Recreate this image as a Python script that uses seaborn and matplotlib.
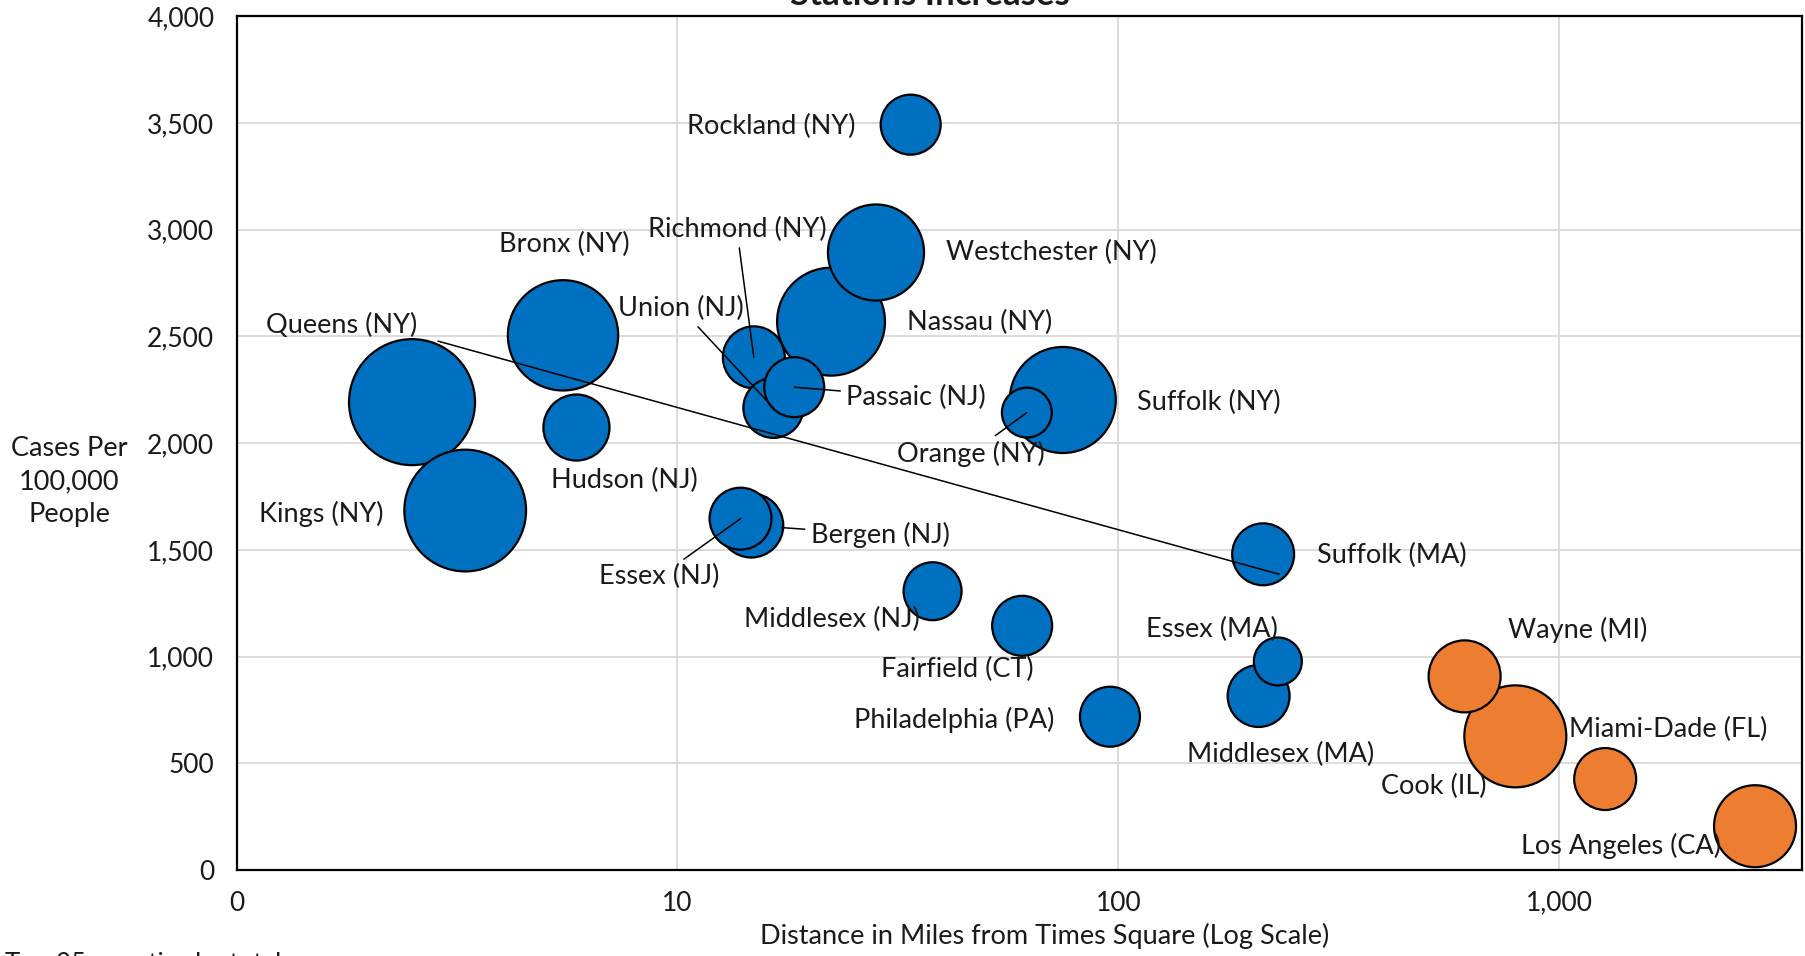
import numpy as np
import pandas as pd
import matplotlib
matplotlib.use("Agg")
import matplotlib.pyplot as plt
import matplotlib.transforms as mtransforms
from matplotlib.ticker import FixedLocator, FixedFormatter
import seaborn as sns

# Counties, distance from Times Square (miles), cases per 100k, total cases (thousands, est.)
counties = ["Queens (NY)", "Kings (NY)", "Bronx (NY)", "Hudson (NJ)", "Nassau (NY)",
            "Richmond (NY)", "Union (NJ)", "Passaic (NJ)", "Westchester (NY)", "Rockland (NY)",
            "Bergen (NJ)", "Essex (NJ)", "Suffolk (NY)", "Orange (NY)", "Middlesex (NJ)",
            "Fairfield (CT)", "Philadelphia (PA)", "Suffolk (MA)", "Middlesex (MA)", "Essex (MA)",
            "Cook (IL)", "Wayne (MI)", "Miami-Dade (FL)", "Los Angeles (CA)"]
distance = [2.5, 3.3, 5.5, 5.9, 22.3,
            14.9, 16.5, 18.4, 28.2, 33.8,
            14.7, 13.9, 74.8, 62.0, 37.9,
            60.5, 95.7, 213, 208, 230,
            795, 610, 1271, 2780]
cases_per_100k = [2192, 1684, 2505, 2073, 2569,
                  2402, 2165, 2262, 2893, 3492,
                  1614, 1646, 2202, 2143, 1306,
                  1144, 718, 1479, 815, 977,
                  626, 907, 426, 205]
total_cases_k = [60, 56, 46, 16.5, 44,
                 14.5, 13.6, 13.6, 34.9, 13.6,
                 15.5, 14.5, 42.5, 9.4, 12.7,
                 13.6, 13.6, 14.5, 14.5, 8.7,
                 39.3, 19.6, 14.5, 25.4]
region = ["NY metro / Northeast"] * 20 + ["Elsewhere"] * 4

x_ticks = [1, 10, 100, 1000]
x_tick_labels = ["0", "10", "100", "1,000"]
y_ticks = list(range(0, 4001, 500))

# label offsets from the bubble centre, in pixels
label_offsets = {
    "Queens (NY)": (-70, 77), "Kings (NY)": (-144, -3), "Bronx (NY)": (1, 91),
    "Hudson (NJ)": (48, -53), "Richmond (NY)": (-17, 128), "Union (NJ)": (-92, 99),
    "Passaic (NJ)": (122, -10), "Nassau (NY)": (149, -1), "Westchester (NY)": (175, 0),
    "Rockland (NY)": (-139, -2), "Essex (NJ)": (-81, -58), "Bergen (NJ)": (129, -9),
    "Orange (NY)": (-56, -41), "Suffolk (NY)": (146, -2), "Middlesex (NJ)": (-101, -28),
    "Fairfield (CT)": (-65, -44), "Philadelphia (PA)": (-156, -3), "Suffolk (MA)": (129, -1),
    "Middlesex (MA)": (22, -58), "Essex (MA)": (-66, 32), "Wayne (MI)": (113, 46),
    "Cook (IL)": (-82, -50), "Miami-Dade (FL)": (63, 50), "Los Angeles (CA)": (-134, -20),
}
leaders = {"Richmond (NY)": 0, "Union (NJ)": 0, "Passaic (NJ)": 0, "Orange (NY)": 0,
           "Essex (NJ)": 0, "Bergen (NJ)": 22}

df = pd.DataFrame({"county": counties, "distance": distance, "rate": cases_per_100k,
                   "cases": total_cases_k, "region": region})

sns.set_style("white")
plt.rcParams["font.family"] = ["Lato", "DejaVu Sans"]
text_color = "#1a1a1a"

fig = plt.figure(figsize=(18.06, 9.56), dpi=100)
ax = fig.add_axes([0.131, 0.090, 0.867, 0.893])

sns.scatterplot(data=df, x="distance", y="rate", hue="region", size="cases",
                sizes=(0, 8230), size_norm=(0, 60),
                palette={"NY metro / Northeast": "#0070C0", "Elsewhere": "#ED7D31"},
                edgecolor="black", linewidth=1.6, alpha=1, legend=False, ax=ax, zorder=2)

ax.set_xscale("log")
ax.set_xlim(1, 3560)
ax.set_ylim(0, 4000)
ax.xaxis.set_major_locator(FixedLocator(x_ticks))
ax.xaxis.set_major_formatter(FixedFormatter(x_tick_labels))
ax.xaxis.set_minor_locator(FixedLocator([]))
ax.set_yticks(y_ticks)
ax.set_yticklabels([f"{v:,}" for v in y_ticks])
ax.grid(True, color="#d9d9d9", linewidth=1.3, zorder=0)
ax.set_axisbelow(True)
for sp in ax.spines.values():
    sp.set_color("black")
    sp.set_linewidth(1.6)
ax.tick_params(length=0, labelsize=19, colors=text_color)
ax.tick_params(axis="y", pad=16)
ax.tick_params(axis="x", pad=15)

ax.set_xlabel("Distance in Miles from Times Square (Log Scale)", fontsize=19.5,
              color=text_color)
ax.xaxis.set_label_coords(0.516, -0.062)
ax.set_ylabel("Cases Per\n100,000\nPeople", fontsize=19.5, color=text_color,
              rotation=0, ha="center", va="center", linespacing=1.4)
ax.yaxis.set_label_coords(-0.107, 0.455)

for _, row in df.iterrows():
    dx, dy = label_offsets[row["county"]]
    arrow = None
    if row["county"] in leaders:
        arrow = dict(arrowstyle="-", color="black", lw=1.1, shrinkA=2,
                     shrinkB=leaders[row["county"]])
    ax.annotate(row["county"], xy=(row["distance"], row["rate"]), xytext=(dx, dy),
                textcoords="offset pixels", ha="center", va="center",
                fontsize=19.5, color=text_color, arrowprops=arrow, zorder=4)

# long leader line from the Queens label down to Suffolk (MA)
q = df[df["county"] == "Queens (NY)"].iloc[0]
s = df[df["county"] == "Suffolk (MA)"].iloc[0]
start_tr = mtransforms.offset_copy(ax.transData, fig=fig, x=26, y=61, units="dots")
end_tr = mtransforms.offset_copy(ax.transData, fig=fig, x=16, y=-20, units="dots")
ax.annotate("", xy=(s["distance"], s["rate"]), xycoords=end_tr,
            xytext=(q["distance"], q["rate"]), textcoords=start_tr,
            arrowprops=dict(arrowstyle="-", color="black", lw=1.1, shrinkA=0, shrinkB=0),
            zorder=4)

# title and footnote, both cut off by the edges of the image
fig.text(0.515, 1 - 5 / 956, "Stations Increases", ha="center", va="baseline",
         fontsize=25, fontweight="bold", color=text_color)
fig.text(0.003, 4 / 956, "Top 25 counties by total cases", ha="left", va="top",
         fontsize=18.5, color=text_color)

fig.savefig("out.png", dpi=100)
